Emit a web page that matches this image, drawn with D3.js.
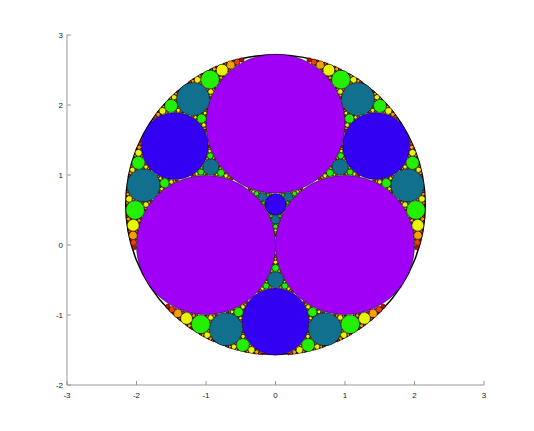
<!DOCTYPE html>
<html><head><meta charset="utf-8">
<script src="https://cdn.jsdelivr.net/npm/d3@7"></script>
<style>body{margin:0;background:#fff}svg{display:block}</style>
</head><body>
<svg id="c" width="534" height="431"></svg>
<script>
// seed circles (three mutually tangent unit circles) of the Apollonian gasket
const seedCurvature = [1, 1, 1];
const seedX = [-1, 1, 0];
const seedY = [0, 0, Math.sqrt(3)];
const generationColors = ["#a000f5", "#3300f2", "#12708f", "#22f000", "#e8f500", "#f5a000", "#f04000", "#c01000"];
const maxGeneration = 7;
const minRadius = 0.008;
const xTicks = [-3, -2, -1, 0, 1, 2, 3];
const yTicks = [-2, -1, 0, 1, 2, 3];

const svg = d3.select("#c");
const x = d3.scaleLinear().domain([-3, 3]).range([67, 484]);
const y = d3.scaleLinear().domain([-2, 3]).range([385, 35]);

const A = {k: seedCurvature[0], x: seedX[0], y: seedY[0], g: 0};
const B = {k: seedCurvature[1], x: seedX[1], y: seedY[1], g: 0};
const C = {k: seedCurvature[2], x: seedX[2], y: seedY[2], g: 0};
// outer circle via Descartes theorem
const s = A.k + B.k + C.k, q = Math.sqrt(A.k*B.k + B.k*C.k + C.k*A.k);
const kOut = s - 2*q;
const O = {k: kOut, x: (A.k*A.x+B.k*B.x+C.k*C.x)/s, y: (A.k*A.y+B.k*B.y+C.k*C.y)/s, g: -1};
const circles = [A, B, C];
function gap(a, b, c, o, g) {
  const k = 2*(a.k + b.k + c.k) - o.k;
  const d = {k, x: (2*(a.k*a.x + b.k*b.x + c.k*c.x) - o.k*o.x)/k,
                y: (2*(a.k*a.y + b.k*b.y + c.k*c.y) - o.k*o.y)/k, g};
  circles.push(d);
  if (g < maxGeneration && 1/k > minRadius) {
    gap(a, b, d, c, g+1); gap(b, c, d, a, g+1); gap(a, c, d, b, g+1);
  }
}
gap(A, B, C, O, 1); gap(A, B, O, C, 1); gap(B, C, O, A, 1); gap(A, C, O, B, 1);
circles.sort((p, r) => r.g === p.g ? p.k - r.k : p.g - r.g);

// axes
const ax = svg.append("g").attr("font-family", "Liberation Sans, Arial, sans-serif").attr("font-size", 8).attr("fill", "#222");
ax.append("line").attr("x1", x(-3)).attr("x2", x(3)).attr("y1", y(-2)).attr("y2", y(-2)).attr("stroke", "#999");
ax.append("line").attr("x1", x(-3)).attr("x2", x(-3)).attr("y1", y(-2)).attr("y2", y(3)).attr("stroke", "#999");
xTicks.forEach(t => {
  ax.append("line").attr("x1", x(t)).attr("x2", x(t)).attr("y1", y(-2)).attr("y2", y(-2)-4).attr("stroke", "#999");
  ax.append("text").attr("x", x(t)).attr("y", y(-2)+13).attr("text-anchor", "middle").text(t);
});
yTicks.forEach(t => {
  ax.append("line").attr("x1", x(-3)).attr("x2", x(-3)+4).attr("y1", y(t)).attr("y2", y(t)).attr("stroke", "#999");
  ax.append("text").attr("x", x(-3)-4).attr("y", y(t)+3).attr("text-anchor", "end").text(t);
});

// outer circle
svg.append("circle").attr("cx", x(O.x)).attr("cy", y(O.y)).attr("r", x(-1/O.k) - x(0))
  .attr("fill", "none").attr("stroke", "#000").attr("stroke-width", 1.5);
svg.append("g").selectAll("circle").data(circles).join("circle")
  .attr("cx", d => x(d.x)).attr("cy", d => y(d.y)).attr("r", d => x(1/d.k) - x(0))
  .attr("fill", d => generationColors[d.g]).attr("stroke", "#000").attr("stroke-width", 0.5);
</script></body></html>
